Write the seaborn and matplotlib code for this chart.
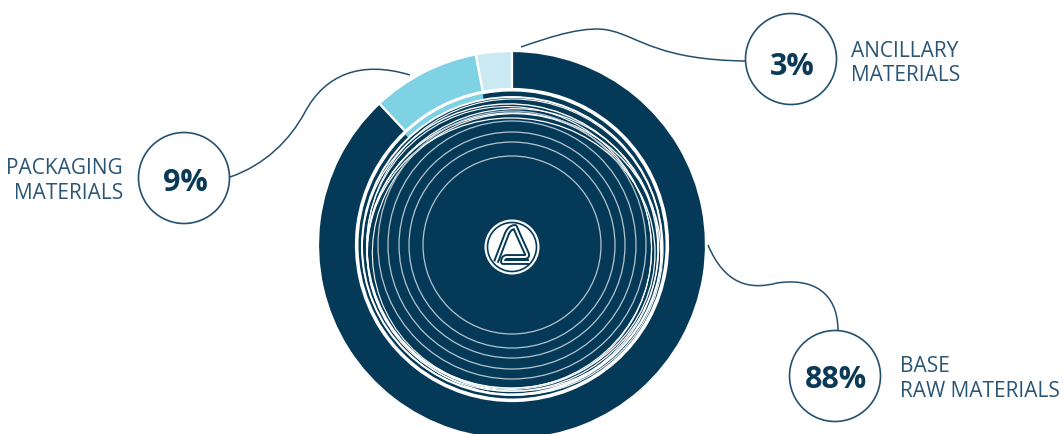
import numpy as np
import matplotlib
matplotlib.use("Agg")
import matplotlib.pyplot as plt
import seaborn as sns
from matplotlib.patches import Circle, Ellipse, Wedge, PathPatch
from matplotlib.path import Path

# Share of material costs
categories = ["ANCILLARY\nMATERIALS", "PACKAGING\nMATERIALS", "BASE\nRAW MATERIALS"]
shares = [3, 9, 88]
pct_labels = ["3%", "9%", "88%"]

NAVY = "#043a58"
LIGHT = "#7fd2e4"
PALE = "#cbe9f2"
TEXT = "#2a5676"
LINE = "#24506f"
palette = sns.color_palette([PALE, LIGHT, NAVY])

sns.set_theme(style="white")
plt.rcParams["font.family"] = ["Open Sans", "DejaVu Sans"]

W, H = 1063, 434
fig = plt.figure(figsize=(W / 100, H / 100), dpi=100)
ax = fig.add_axes([0, 0, 1, 1])

cx, cy = 512, 245
R_OUT, RING_W = 194, 38

# Outer ring (y axis is flipped below, so the pie runs clockwise in data space)
ax.pie(shares, colors=palette, startangle=-90, counterclock=False,
       center=(cx, cy), radius=R_OUT,
       wedgeprops=dict(width=RING_W, edgecolor="white", linewidth=1.6))

ax.set_xlim(0, W)
ax.set_ylim(H, 0)
ax.set_aspect("auto")
ax.axis("off")

# Inner disc
ax.add_patch(Circle((cx, cy), 153.5, facecolor=NAVY, edgecolor="none", zorder=3))

# Thin light-blue band under the packaging segment
ax.add_patch(Wedge((cx, cy), 154, -134, -101, width=6, facecolor=LIGHT,
                   edgecolor="none", zorder=3.5))

# Grooves near the rim of the disc
rim = [
    (0, 1, 150, 149, 0, 1.4),
    (-2, 4, 148, 145, 10, 1.0),
    (1, 5, 146, 141, -15, 0.9),
    (-3, 3, 143, 141, 30, 0.8),
    (2, 7, 147, 139, 5, 1.0),
    (0, 6, 140, 137, -20, 0.8),
    (-1, 8, 144, 135, 0, 0.9),
    (3, 2, 149, 147, 45, 0.8),
]
for dx, dy, rx, ry, ang, lw in rim:
    ax.add_patch(Ellipse((cx + dx, cy + dy), 2 * rx, 2 * ry, angle=ang,
                         fill=False, edgecolor="white", linewidth=lw, zorder=4))

# Fine concentric grooves
for r in [89, 103, 113, 124, 134]:
    ax.add_patch(Circle((cx, cy), r, fill=False, edgecolor="#b4c4cf",
                        linewidth=0.9, zorder=4))

# Centre emblem
ax.add_patch(Circle((cx, cy + 2), 27.5, facecolor="white", edgecolor="none", zorder=5))
ax.add_patch(Circle((cx, cy + 2), 24.5, fill=False, edgecolor=NAVY, linewidth=1.2, zorder=6))
emblem = Path(
    [(496, 262), (506, 236), (509, 227), (515, 227), (518, 234), (527, 254),
     (528, 257), (524, 257), (507, 257), (503, 257), (503, 262), (507, 262),
     (529, 262)],
    [Path.MOVETO, Path.LINETO, Path.CURVE3, Path.CURVE3, Path.LINETO, Path.LINETO,
     Path.CURVE3, Path.CURVE3, Path.LINETO, Path.CURVE3, Path.CURVE3, Path.LINETO,
     Path.LINETO])
ax.add_patch(PathPatch(emblem, fill=False, edgecolor=NAVY, linewidth=4.2,
                       capstyle="butt", joinstyle="round", zorder=6))
ax.add_patch(PathPatch(emblem, fill=False, edgecolor="white", linewidth=1.4,
                       capstyle="butt", joinstyle="round", zorder=7))

# Leader lines (cubic Bezier curves)
leaders = [
    [(521, 47), (550, 37), (588, 24), (612, 31), (640, 38), (660, 60), (746, 61)],
    [(230, 177), (265, 165), (290, 140), (305, 112), (325, 75), (360, 60), (410, 75)],
    [(708, 245), (725, 285), (750, 290), (777, 283), (810, 278), (838, 290), (838, 331)],
]
for pts in leaders:
    codes = [Path.MOVETO] + [Path.CURVE4] * (len(pts) - 1)
    ax.add_patch(PathPatch(Path(pts, codes), fill=False, edgecolor=LINE,
                           linewidth=1.1, zorder=2))

# Callout bubbles with value and label
bubbles = [(791, 59), (184, 178), (835, 376)]
pct_base = [75, 191, 388]
label_pos = [
    (851, [57, 81], "left"),
    (123, [174, 199], "right"),
    (900, [372, 397], "left"),
]
for (bx, by), pct, pb, cat, (lx, lys, ha) in zip(bubbles, pct_labels, pct_base,
                                                  categories, label_pos):
    ax.add_patch(Circle((bx, by), 45.5, facecolor="white", edgecolor=LINE,
                        linewidth=1.2, zorder=8))
    ax.text(bx + 1, pb, pct, ha="center", va="baseline", fontsize=22,
            fontweight="bold", color="#0b3a59", zorder=9)
    for line, ly in zip(cat.split("\n"), lys):
        ax.text(lx, ly, line, ha=ha, va="baseline", fontsize=15, color=TEXT,
                zorder=9)

fig.savefig("out.png", dpi=100, facecolor="white")
